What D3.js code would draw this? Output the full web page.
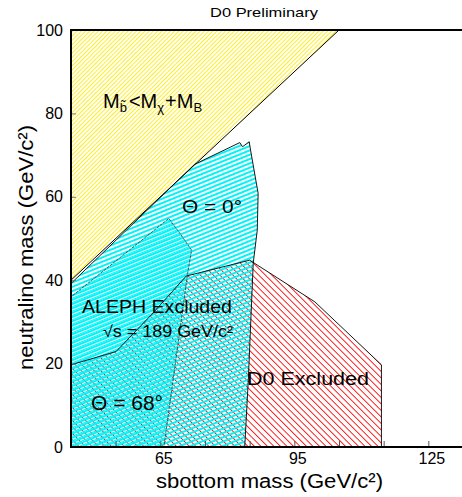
<!DOCTYPE html>
<html><head><meta charset="utf-8">
<script src="https://cdn.jsdelivr.net/npm/d3@7"></script>
<style>
body{margin:0;background:#fff;}
text{font-family:"Liberation Sans",Arial,Helvetica,sans-serif;fill:#000;}
</style></head>
<body><svg id="c" width="462" height="497"></svg>
<script>
// ---- data ----
const xDomain = [45, 135];
const yDomain = [0, 100];
const xTicks = [55, 65, 75, 85, 95, 105, 115, 125];
const xTickLabels = [65, 95, 125];
const yTicks = [0, 20, 40, 60, 80, 100];
const kinematicRegion = [[45,40],[105,100],[45,100]];
const kinematicLine = [[45,40],[105,100]];
const theta0Region = [[45,0],[45,39.2],[72.7,67.8],[82.8,73],[83.4,72],[84.9,73.2],[85.2,71.2],[86.9,60.8],[86.7,52],[85.8,44.1],[84.7,16.1],[83.9,0]];
const theta68Region = [[45,0],[45,36],[66.9,54.8],[69.4,51.2],[72,47.2],[71.2,42.2],[65.8,0]];
const d0Region = [[45,0],[45,19.7],[55.1,22.9],[63,31.7],[70.8,41],[85,44.8],[99.6,34.8],[114.5,19.7],[114.5,0]];

const svg = d3.select('#c');
const x = d3.scaleLinear().domain(xDomain).range([71, 473]);
const y = d3.scaleLinear().domain(yDomain).range([447, 30]);
const defs = svg.append('defs');
defs.append('clipPath').attr('id','clip').append('rect')
  .attr('x',71).attr('y',30).attr('width',400).attr('height',417);

function hatch(id, angle, spacing, color, width, offset){
  const p = defs.append('pattern').attr('id',id)
    .attr('patternUnits','userSpaceOnUse')
    .attr('width',40).attr('height',spacing)
    .attr('patternTransform',`rotate(${angle})`);
  p.append('line').attr('x1',0).attr('x2',40)
    .attr('y1',offset).attr('y2',offset)
    .attr('stroke',color).attr('stroke-width',width)
    .attr('shape-rendering','crispEdges');
}
hatch('hy', -45, 3, '#ffee22', 1.0, 1.5);
hatch('hc0', -22, 4, '#00f4f8', 1.2, 1.0);
hatch('hc68', -22, 4, '#00f4f8', 1.0, 3.0);
hatch('hr', 45, 4.6, '#ff1010', 1.1, 2.0);

const line = d3.line().x(d=>x(d[0])).y(d=>y(d[1]));
const area = d3.line().x(d=>x(d[0])).y(d=>y(d[1])).curve(d3.curveLinearClosed);
const g = svg.append('g').attr('clip-path','url(#clip)');

g.append('path').attr('d',area(kinematicRegion)).attr('fill','url(#hy)');
g.append('path').attr('d',area(d0Region)).attr('fill','url(#hr)');
g.append('path').attr('d',area(theta0Region)).attr('fill','url(#hc0)');
g.append('path').attr('d',area(theta68Region)).attr('fill','url(#hc68)');

g.append('path').attr('d',line(kinematicLine)).attr('fill','none').attr('stroke','#000').attr('stroke-width',1);
g.append('path').attr('d',area(theta0Region)).attr('fill','none').attr('stroke','#000').attr('stroke-width',0.9);
g.append('path').attr('d',area(theta68Region)).attr('fill','none').attr('stroke','#333').attr('stroke-width',0.8).attr('stroke-dasharray','3,1');
g.append('path').attr('d',area(d0Region)).attr('fill','none').attr('stroke','#000').attr('stroke-width',0.9);

// axes
const xAxis = d3.axisBottom(x).tickValues(xTicks).tickSizeInner(-6).tickSizeOuter(0).tickPadding(6)
  .tickFormat(d => xTickLabels.includes(d) ? d : '');
const gx = svg.append('g').attr('transform','translate(0,447)').call(xAxis);
gx.select('.domain').remove();
gx.selectAll('line').attr('stroke','#555');
gx.selectAll('text').attr('font-size',16).attr('dx',3).style('font-family','"Liberation Sans",Arial,sans-serif');

const yAxis = d3.axisLeft(y).tickValues(yTicks).tickSizeInner(-5).tickSizeOuter(0).tickPadding(8);
const gy = svg.append('g').attr('transform','translate(71,0)').call(yAxis);
gy.select('.domain').remove();
gy.selectAll('line').attr('stroke','#777');
gy.selectAll('text').attr('font-size',16).style('font-family','"Liberation Sans",Arial,sans-serif');

// frame
svg.append('path').attr('d',`M${x(xDomain[1])},${y(100)}H71V447H${x(xDomain[1])}`)
  .attr('fill','none').attr('stroke','#000').attr('stroke-width',2);

// titles
svg.append('text').attr('x',210).attr('y',17).attr('font-size',13.5).attr('textLength',108).attr('lengthAdjust','spacingAndGlyphs').text('D0 Preliminary');
svg.append('text').attr('x',156).attr('y',488).attr('font-size',20).attr('textLength',227).attr('lengthAdjust','spacingAndGlyphs').text('sbottom mass (GeV/c²)');
svg.append('text').attr('transform','translate(33,370) rotate(-90)').attr('font-size',20).attr('textLength',245).attr('lengthAdjust','spacingAndGlyphs').text('neutralino mass (GeV/c²)');

// annotations
const m = svg.append('text').attr('x',103).attr('y',108).attr('font-size',20);
m.append('tspan').text('M');
m.append('tspan').attr('dy',4).attr('font-size',13).text('b̃');
m.append('tspan').attr('dy',-4).attr('dx',2).text('<M');
m.append('tspan').attr('dy',4).attr('font-size',13).text('χ');
m.append('tspan').attr('dy',-4).attr('dx',1).text('+M');
m.append('tspan').attr('dy',4).attr('font-size',13).text('B');

svg.append('text').attr('x',182).attr('y',213).attr('font-size',19).attr('textLength',60).attr('lengthAdjust','spacingAndGlyphs').text('Θ = 0°');
svg.append('text').attr('x',82).attr('y',313).attr('font-size',19).attr('textLength',150).attr('lengthAdjust','spacingAndGlyphs').text('ALEPH Excluded');
svg.append('text').attr('x',103).attr('y',337).attr('font-size',16).attr('textLength',130).attr('lengthAdjust','spacingAndGlyphs').text('√s = 189 GeV/c²');
svg.append('text').attr('x',247).attr('y',385).attr('font-size',19).attr('textLength',122).attr('lengthAdjust','spacingAndGlyphs').text('D0 Excluded');
svg.append('text').attr('x',91).attr('y',410).attr('font-size',20).attr('textLength',72).attr('lengthAdjust','spacingAndGlyphs').text('Θ = 68°');
</script></body></html>
